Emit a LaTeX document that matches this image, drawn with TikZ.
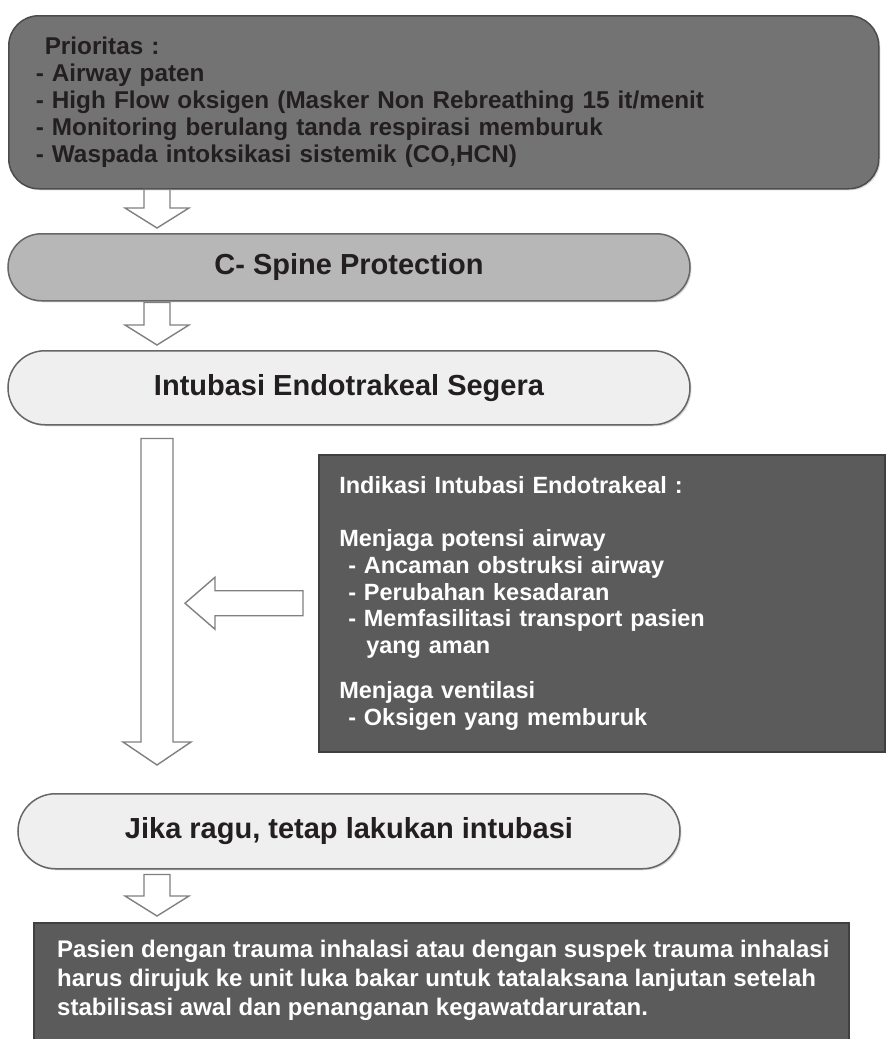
\documentclass[tikz,border=0pt]{standalone}
\usepackage{fontspec}
\setmainfont{Liberation Sans}
\usetikzlibrary{calc,shadows,shapes.misc}

\definecolor{priogray}{HTML}{737373}
\definecolor{spinegray}{HTML}{B7B7B7}
\definecolor{palegray}{HTML}{EEEFEE}
\definecolor{boxdark}{HTML}{5B5B5B}
\definecolor{inkblack}{HTML}{231F20}

\begin{document}
\begin{tikzpicture}[x=1pt,y=-1pt]

  \tikzstyle{box} = [draw, line width=1.5pt, inner sep=0pt, drop shadow={shadow xshift=1.5pt, shadow yshift=-1.5pt, opacity=0.3}]
  \tikzstyle{pill} = [box, rounded rectangle, draw=black!60, anchor=north, text=inkblack, font=\fontsize{29}{33}\selectfont\bfseries]
  \tikzstyle{panel} = [box, draw=black!75, fill=boxdark, anchor=north west]
  \tikzstyle{paneltext} = [text=white, align=left, font=\fontsize{23.5}{26.7}\selectfont\bfseries]
  \tikzstyle{blockarrow} = [draw=gray, fill=white, line width=1.4pt, line join=miter]

  \tikzset{
    hollowdown/.style n args={3}{blockarrow, to path={($(\tikztostart)+(-#1,0)$) -- ($(\tikztotarget)+(-#1,-#3)$) -- ($(\tikztotarget)+(-#2,-#3)$) -- (\tikztotarget) -- ($(\tikztotarget)+(#2,-#3)$) -- ($(\tikztotarget)+(#1,-#3)$) -- ($(\tikztostart)+(#1,0)$) -- cycle}},
    hollowleft/.style n args={3}{blockarrow, to path={($(\tikztostart)+(0,-#1)$) -- ($(\tikztotarget)+(#3,-#1)$) -- ($(\tikztotarget)+(#3,-#2)$) -- (\tikztotarget) -- ($(\tikztotarget)+(#3,#2)$) -- ($(\tikztotarget)+(#3,#1)$) -- ($(\tikztostart)+(0,#1)$) -- cycle}}
  }

  \useasboundingbox (0,0) rectangle (887,1039);

  % boxes
  \node[box, fill=priogray, draw=black!70, rounded corners=30pt, anchor=north west, minimum width=870pt, minimum height=173pt, text width=816pt, align=left, text=inkblack, font=\fontsize{24.3}{26.8}\selectfont\bfseries] (prio) at (8,15)
    {\hspace*{9pt}Prioritas :\\
     - Airway paten\\
     - High Flow oksigen (Masker Non Rebreathing 15 it/menit\\
     - Monitoring berulang tanda respirasi memburuk\\
     - Waspada intoksikasi sistemik (CO,HCN)};

  \node[pill, fill=spinegray, minimum width=682pt, minimum height=67pt] (spine) at (349,233) {C- Spine Protection};
  \node[pill, fill=palegray, minimum width=682pt, minimum height=74pt] (intub) at (349,350) {Intubasi Endotrakeal Segera};

  \node[panel, paneltext, minimum width=566pt, minimum height=297pt, text width=525pt] (indik) at (318,454)
    {Indikasi Intubasi Endotrakeal :\\[26.7pt]
     Menjaga potensi airway\\
     \hspace*{9pt}- Ancaman obstruksi airway\\
     \hspace*{9pt}- Perubahan kesadaran\\
     \hspace*{9pt}- Memfasilitasi transport pasien\\
     \hspace*{27pt}yang aman\\[18pt]
     Menjaga ventilasi\\
     \hspace*{9pt}- Oksigen yang memburuk};

  \node[pill, fill=palegray, minimum width=662pt, minimum height=75pt] (jika) at (349,793) {Jika ragu, tetap lakukan intubasi};

  \node[panel, minimum width=815pt, minimum height=140pt] (advice) at (33,922) {};
  \node[paneltext, anchor=north west, inner sep=0pt, font=\fontsize{24}{29}\selectfont\bfseries] (advicetext) at ($(advice.north west)+(24,17.5)$)
    {Pasien dengan trauma inhalasi atau dengan suspek trauma inhalasi\\
     harus dirujuk ke unit luka bakar untuk tatalaksana lanjutan setelah\\
     stabilisasi awal dan penanganan kegawatdaruratan.};

  % arrows
  \coordinate (axis) at (157,0);
  \coordinate (a1) at (prio.south -| axis);
  \coordinate (b1) at ($(spine.north -| axis)+(0,-5)$);
  \coordinate (a2) at ($(spine.south -| axis)+(0,1)$);
  \coordinate (b2) at ($(intub.north -| axis)+(0,-5)$);
  \coordinate (a3) at ($(intub.south -| axis)+(0,13)$);
  \coordinate (b3) at ($(jika.north -| axis)+(0,-28)$);
  \coordinate (a4) at ($(jika.south -| axis)+(0,5)$);
  \coordinate (b4) at ($(advice.north -| axis)+(0,-6)$);
  \coordinate (a5) at ($(indik.west)+(-15,0)$);
  \coordinate (b5) at ($(indik.west)+(-133,0)$);

  \draw[hollowdown={13}{32}{20}] (a1) to (b1);
  \draw[hollowdown={13}{32}{20}] (a2) to (b2);
  \draw[hollowdown={16}{34}{23}] (a3) to (b3);
  \draw[hollowdown={13}{32}{20}] (a4) to (b4);
  \draw[hollowleft={12.5}{26}{30}] (a5) to (b5);

\end{tikzpicture}
\end{document}
